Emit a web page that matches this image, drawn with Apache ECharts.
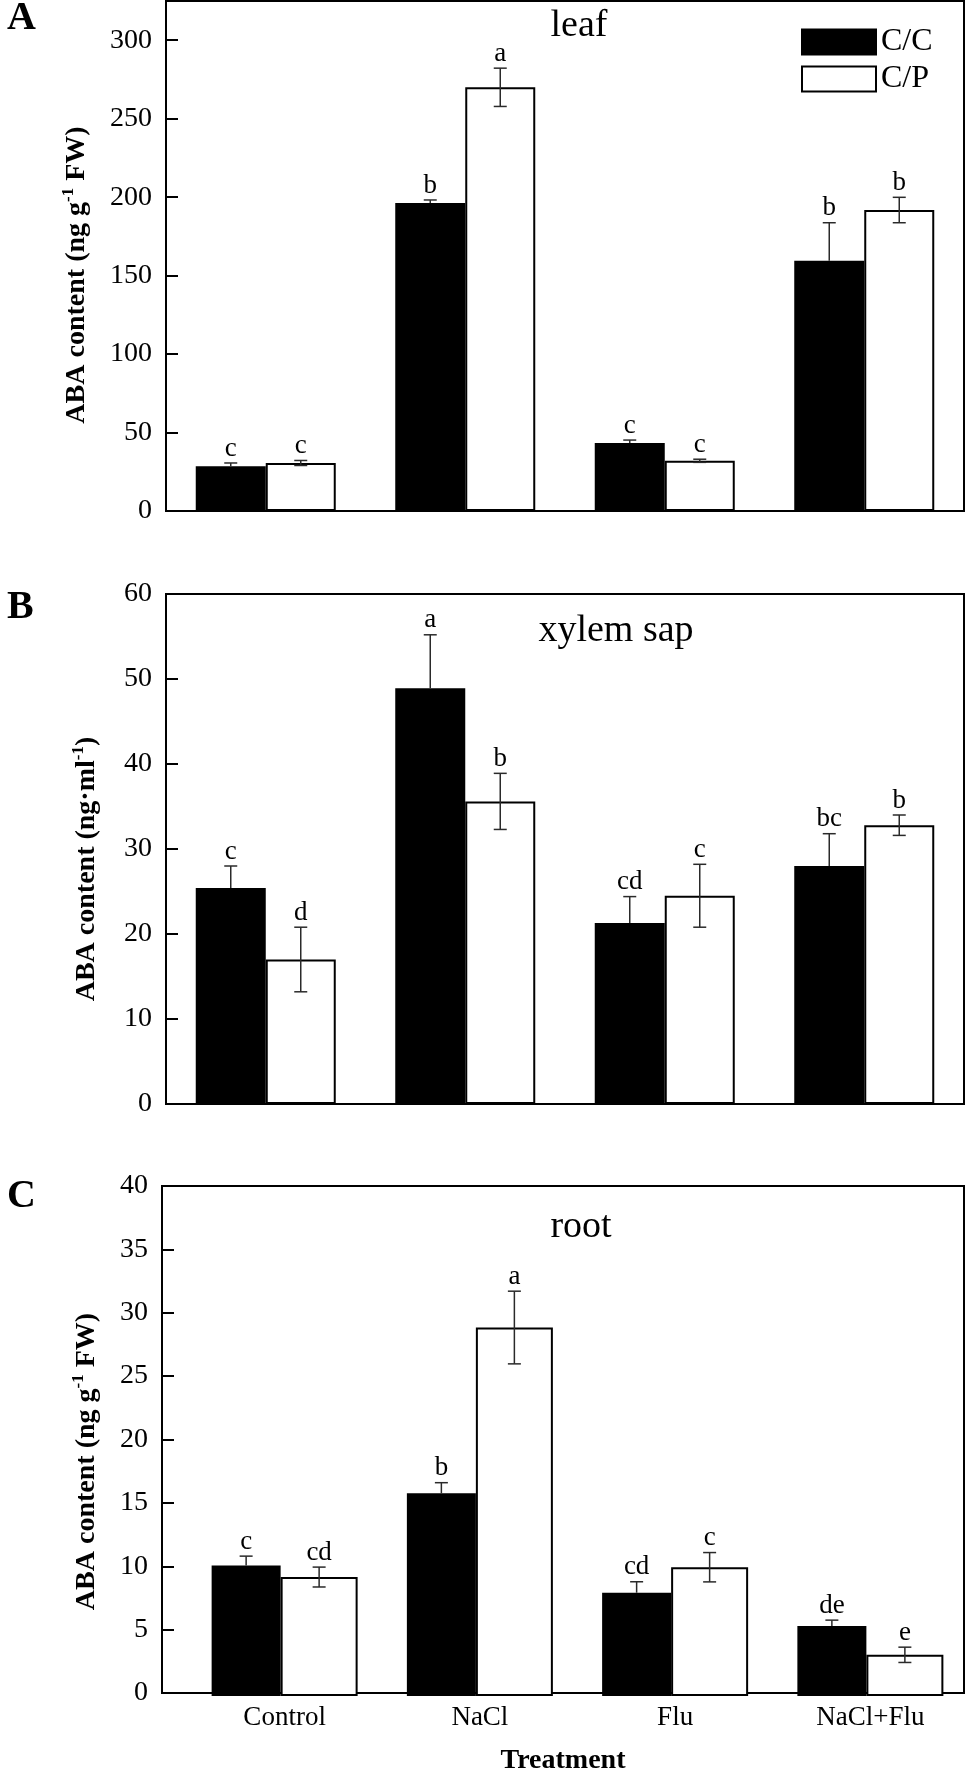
<!DOCTYPE html>
<html>
<head>
<meta charset="utf-8">
<script src="https://cdn.jsdelivr.net/npm/echarts@6/dist/echarts.min.js"></script>
<style>
html, body { margin: 0; padding: 0; background: #fff; }
#chart { width: 968px; height: 1776px; }
</style>
</head>
<body>
<div id="chart"></div>
<script>
const treatments = ['Control', 'NaCl', 'Flu', 'NaCl+Flu']
const groups = ['C/C', 'C/P']

// A: leaf
const leafCC = [28.5, 196.2, 43.4, 159.4]
const leafCCErr = [2.1, 2.0, 1.8, 24.3]
const leafCCLetters = ['c', 'b', 'c', 'b']
const leafCP = [30.6, 270.0, 32.0, 191.8]
const leafCPErr = [1.6, 12.2, 1.0, 8.1]
const leafCPLetters = ['c', 'a', 'c', 'b']
const leafAxis = [0, 325, 50]

// B: xylem sap
const sapCC = [25.4, 48.9, 21.3, 28.0]
const sapCCErr = [2.6, 6.3, 3.1, 3.8]
const sapCCLetters = ['c', 'a', 'cd', 'bc']
const sapCP = [17.0, 35.6, 24.5, 32.8]
const sapCPErr = [3.8, 3.3, 3.7, 1.2]
const sapCPLetters = ['d', 'b', 'c', 'b']
const sapAxis = [0, 60, 10]

// C: root
const rootCC = [10.24, 15.9, 8.1, 5.5]
const rootCCErr = [0.73, 0.83, 0.86, 0.45]
const rootCCLetters = ['c', 'b', 'cd', 'de']
const rootCP = [9.33, 28.9, 10.1, 3.23]
const rootCPErr = [0.78, 2.85, 1.15, 0.6]
const rootCPLetters = ['cd', 'a', 'c', 'e']
const rootAxis = [0, 40, 5]

const serif = '"Liberation Serif", "Times New Roman", serif'

// the root panel's bar pairs sit a little right of the frame's even bands
const panels = [
	{
		tag: 'A', title: 'leaf', axis: leafAxis, top: 1, left: 166, widths: [70, 70],
		unit: ['ng g', '-1', ' FW)'], shift: 38, gap: 72,
		values: [leafCC, leafCP], errs: [leafCCErr, leafCPErr], letters: [leafCCLetters, leafCPLetters],
		tagY: 19, titleX: 579, titleY: 26
	},
	{
		tag: 'B', title: 'xylem sap', axis: sapAxis, top: 594, left: 166, widths: [70, 70],
		unit: ['ng·ml', '-1', ')'], shift: 40, gap: 62,
		values: [sapCC, sapCP], errs: [sapCCErr, sapCPErr], letters: [sapCCLetters, sapCPLetters],
		tagY: 608, titleX: 616, titleY: 631
	},
	{
		tag: 'C', title: 'root', axis: rootAxis, top: 1186, left: 162, widths: [69, 77],
		unit: ['ng g', '-1', ' FW)'], shift: 44, gap: 58,
		values: [rootCC, rootCP], errs: [rootCCErr, rootCPErr], letters: [rootCCLetters, rootCPLetters],
		tagY: 1197, titleX: 581, titleY: 1227,
		bars: { left: 187, width: 782 }
	}
]

const grid = []
const xAxis = []
const yAxis = []
const series = []
const graphic = []

function errorBars(gi, k, p) {
	const w = p.widths
	const total = w[0] + w[1]
	const offset = k === 0 ? -total / 2 + w[0] / 2 : -total / 2 + w[0] + w[1] / 2
	const vals = p.values[k]
	const errs = p.errs[k]
	const letters = p.letters[k]
	return {
		type: 'custom',
		xAxisIndex: gi,
		yAxisIndex: gi,
		z: 10,
		silent: true,
		data: vals.map((v, i) => [i, v, errs[i]]),
		renderItem: (params, api) => {
			const i = api.value(0)
			const v = api.value(1)
			const e = api.value(2)
			const hi = api.coord([i, v + e])
			const lo = api.coord([i, v - e])
			const base = api.coord([i, v])
			const x = hi[0] + offset
			const cap = 6.5
			const line = { stroke: '#2a2a2a', lineWidth: 1.5 }
			const parts = [
				{ type: 'line', shape: { x1: x - cap, y1: hi[1], x2: x + cap, y2: hi[1] }, style: line },
				{
					type: 'text', x: x, y: hi[1] - 1,
					style: {
						text: letters[params.dataIndex], fill: '#000',
						font: '27px ' + serif, textAlign: 'center', textVerticalAlign: 'bottom'
					}
				}
			]
			if (k === 0) {
				// lower half hides inside the black bar
				parts.push({ type: 'line', shape: { x1: x, y1: hi[1], x2: x, y2: base[1] }, style: line })
			} else {
				parts.push({ type: 'line', shape: { x1: x, y1: hi[1], x2: x, y2: lo[1] }, style: line })
				parts.push({ type: 'line', shape: { x1: x - cap, y1: lo[1], x2: x + cap, y2: lo[1] }, style: line })
			}
			return { type: 'group', children: parts }
		}
	}
}

panels.forEach((p, n) => {
	const last = n === panels.length - 1
	const fi = grid.length
	grid.push({
		left: p.left, right: 4, top: p.top, height: 510,
		show: true, borderColor: '#000', borderWidth: 2, backgroundColor: 'transparent'
	})
	xAxis.push({
		type: 'category',
		gridIndex: fi,
		data: treatments,
		axisLine: { lineStyle: { color: '#000', width: 2 } },
		axisTick: { show: false },
		axisLabel: { show: last && !p.bars, color: '#000', fontFamily: serif, fontSize: 27, margin: 8 },
		name: last ? 'Treatment' : '',
		nameLocation: 'middle',
		nameGap: 54,
		nameTextStyle: { color: '#000', fontFamily: serif, fontSize: 28, fontWeight: 'bold' }
	})
	yAxis.push({
		type: 'value',
		gridIndex: fi,
		min: p.axis[0],
		max: p.axis[1],
		interval: p.axis[2],
		splitLine: { show: false },
		axisLine: { show: true, lineStyle: { color: '#000', width: 2 } },
		axisTick: { show: true, inside: true, length: 12, lineStyle: { color: '#000', width: 2 } },
		axisLabel: { color: '#000', fontFamily: serif, fontSize: 28, margin: 14, showMaxLabel: p.axis[1] % p.axis[2] === 0 },
		name: '{m|ABA content (' + p.unit[0] + '}{s|' + p.unit[1] + '}{m|' + p.unit[2] + '}',
		nameLocation: 'middle',
		nameGap: p.gap,
		nameTextStyle: {
			padding: [0, p.shift, 0, 0],
			rich: {
				m: { fontFamily: serif, fontWeight: 'bold', fontSize: 28, lineHeight: 34, color: '#000' },
				s: { fontFamily: serif, fontWeight: 'bold', fontSize: 17, lineHeight: 17, verticalAlign: 'top', color: '#000' }
			}
		}
	})

	let gi = fi
	if (p.bars) {
		gi = grid.length
		grid.push({ left: p.bars.left, width: p.bars.width, top: p.top, height: 510 })
		xAxis.push({
			type: 'category',
			gridIndex: gi,
			data: treatments,
			axisLine: { show: false },
			axisTick: { show: false },
			axisLabel: { show: last, color: '#000', fontFamily: serif, fontSize: 27, margin: 8 }
		})
		yAxis.push({
			type: 'value',
			gridIndex: gi,
			min: p.axis[0],
			max: p.axis[1],
			interval: p.axis[2],
			show: false
		})
	}

	groups.forEach((g, k) => {
		series.push({
			type: 'bar',
			name: g,
			xAxisIndex: gi,
			yAxisIndex: gi,
			data: p.values[k],
			barWidth: p.widths[k],
			barGap: '0%',
			itemStyle: { color: k === 0 ? '#000' : '#fff', borderColor: '#000', borderWidth: 2 },
			emphasis: { disabled: true }
		})
	})
	groups.forEach((g, k) => series.push(errorBars(gi, k, p)))
	graphic.push({
		type: 'text', left: 7, top: p.tagY - 20,
		style: { text: p.tag, font: 'bold 40px ' + serif, fill: '#000' }
	})
	graphic.push({
		type: 'text', x: p.titleX, y: p.titleY,
		style: { text: p.title, font: '38px ' + serif, fill: '#000', textAlign: 'center', textVerticalAlign: 'middle' }
	})
})

const chart = echarts.init(document.getElementById('chart'), null, { renderer: 'canvas' })
chart.setOption({
	animation: false,
	backgroundColor: '#fff',
	grid: grid,
	xAxis: xAxis,
	yAxis: yAxis,
	series: series,
	graphic: graphic,
	legend: {
		data: groups,
		left: 796,
		top: 21,
		orient: 'vertical',
		icon: 'rect',
		itemWidth: 74,
		itemHeight: 25,
		itemGap: 5,
		selectedMode: false,
		textStyle: { color: '#000', fontFamily: serif, fontSize: 32 }
	}
})
</script>
</body>
</html>
